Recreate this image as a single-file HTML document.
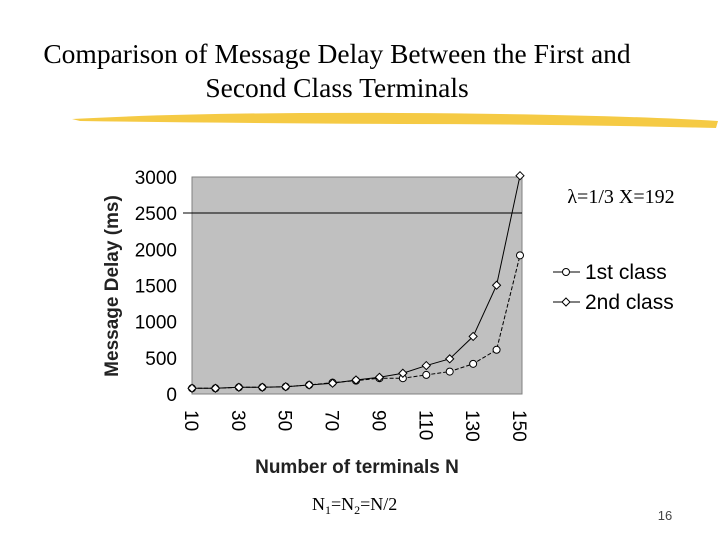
<!DOCTYPE html>
<html><head><meta charset="utf-8"><style>
body{margin:0;background:#fff;}
svg{display:block;}
</style></head><body>
<svg width="720" height="540" viewBox="0 0 720 540" xmlns="http://www.w3.org/2000/svg">
<text x="337" y="63" text-anchor="middle" font-family="Liberation Serif, serif" font-size="27.5">Comparison of Message Delay Between the First and</text>
<text x="337" y="97" text-anchor="middle" font-family="Liberation Serif, serif" font-size="27.5">Second Class Terminals</text>
<path d="M72,119 Q200,112 400,113 Q600,114 718,121 L716,128 Q560,124 400,124 Q220,123 80,121 Z" fill="#f4c430" opacity="0.9"/>
<rect x="192" y="177" width="330" height="217" fill="#c0c0c0" stroke="#808080"/>
<line x1="183" y1="213" x2="522" y2="213" stroke="#000" stroke-width="1"/>
<g id="yaxis" font-family="Liberation Sans, sans-serif" font-size="19"></g>
<g id="xaxis" font-family="Liberation Sans, sans-serif" font-size="19"></g>
<g id="series"></g>
<text transform="translate(118,286) rotate(-90)" text-anchor="middle" font-family="Liberation Sans, sans-serif" font-size="19" font-weight="bold" fill="#222">Message Delay (ms)</text>
<text x="357" y="473" text-anchor="middle" font-family="Liberation Sans, sans-serif" font-size="19" font-weight="bold" fill="#222">Number of terminals N</text>
<text x="621" y="203" text-anchor="middle" font-family="Liberation Serif, serif" font-size="20">λ=1/3  X=192</text>
<g>
<line x1="553" y1="272" x2="580" y2="272" stroke="#000"/>
<circle cx="566" cy="272" r="3.5" fill="#fff" stroke="#000"/>
<text x="585" y="279" font-family="Liberation Sans, sans-serif" font-size="21">1st class</text>
<line x1="553" y1="302" x2="580" y2="302" stroke="#000"/>
<path d="M566,298 L570,302 L566,306 L562,302 Z" fill="#fff" stroke="#000"/>
<text x="585" y="309" font-family="Liberation Sans, sans-serif" font-size="21">2nd class</text>
</g>
<text x="312" y="510" font-family="Liberation Serif, serif" font-size="18">N<tspan font-size="12" dy="4">1</tspan><tspan dy="-4">=N</tspan><tspan font-size="12" dy="4">2</tspan><tspan dy="-4">=N/2</tspan></text>
<text x="665" y="520" text-anchor="middle" font-family="Liberation Sans, sans-serif" font-size="13" fill="#444">16</text>
</svg>
<script>
const categories=[10,20,30,40,50,60,70,80,90,100,110,120,130,140,150];
const firstClass=[79,79,93,93,101,125,157,185,218,218,264,310,417,611,1917];
const secondClass=[79,79,93,93,101,125,149,194,231,287,393,486,796,1504,3018];
const yTicks=[0,500,1000,1500,2000,2500,3000];
const NS="http://www.w3.org/2000/svg";
const x0=192,dx=(520-192)/14;
function xPos(i){return x0+i*dx;}
function yPos(v){return 394-v*217/3000;}
function mk(t,a,p){const e=document.createElementNS(NS,t);for(const k in a)e.setAttribute(k,a[k]);p.appendChild(e);return e;}
const ya=document.getElementById('yaxis');
yTicks.forEach(v=>{const t=mk('text',{x:177,y:yPos(v)+7,'text-anchor':'end'},ya);t.textContent=v;

});
const xa=document.getElementById('xaxis');
categories.forEach((c,i)=>{if(i%2)return;const t=mk('text',{transform:`translate(${xPos(i)-7},410) rotate(90)`},xa);t.textContent=c;

});
const s=document.getElementById('series');
function line(vals,dash,name){const d=vals.map((v,i)=>(i?'L':'M')+xPos(i)+','+yPos(v)).join(' ');const p=mk('path',{d:d,fill:'none',stroke:'#000','stroke-width':1,'stroke-dasharray':dash},s);

}
line(firstClass,'4,2','line-1st-class');
line(secondClass,'none','line-2nd-class');
firstClass.forEach((v,i)=>{const c=mk('circle',{cx:xPos(i),cy:yPos(v),r:3.5,fill:'#fff',stroke:'#000'},s);

});
secondClass.forEach((v,i)=>{const x=xPos(i),y=yPos(v);const p=mk('path',{d:`M${x},${y-4} L${x+4},${y} L${x},${y+4} L${x-4},${y} Z`,fill:'#fff',stroke:'#000'},s);

});
</script>
</body></html>
